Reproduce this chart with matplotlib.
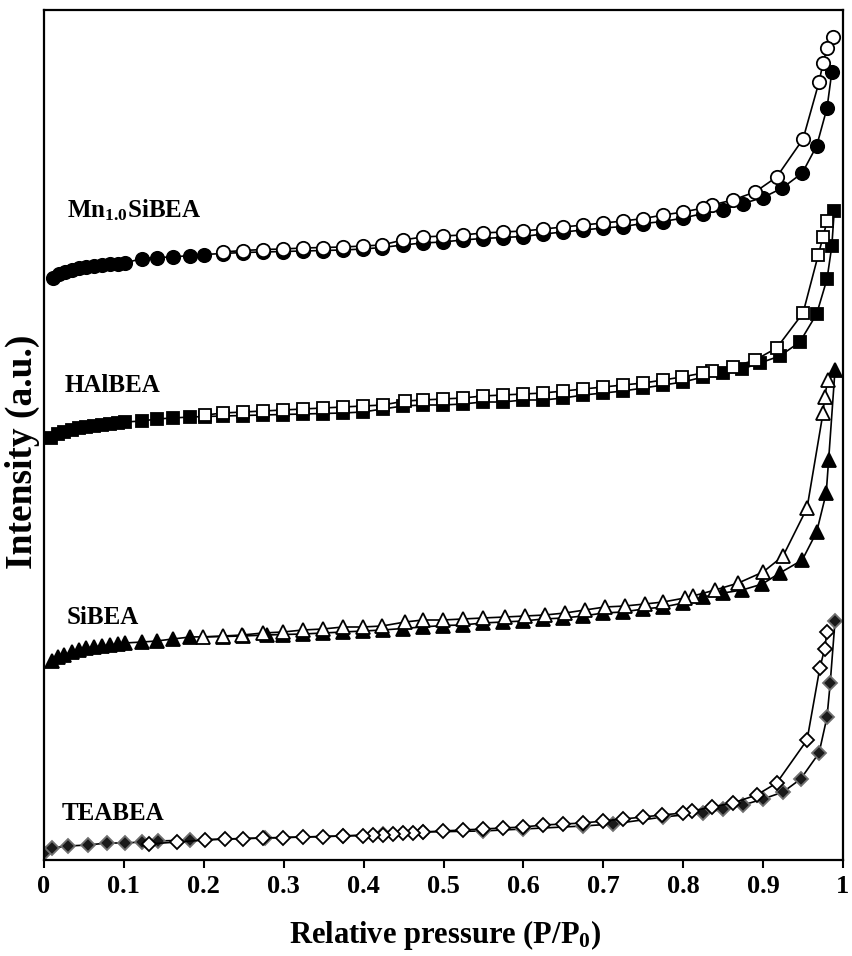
import matplotlib

matplotlib.use("Agg")
import matplotlib.pyplot as plt

# N2 isotherms, stacked; intensity in arbitrary units
# --- Mn1.0SiBEA ---
mn_ads_p = [0.011, 0.019, 0.026, 0.035, 0.044, 0.053, 0.063, 0.073, 0.083, 0.093,
            0.101, 0.123, 0.141, 0.161, 0.183, 0.200, 0.224, 0.249, 0.274, 0.299,
            0.324, 0.349, 0.374, 0.399, 0.423, 0.449, 0.474, 0.499, 0.524, 0.549,
            0.574, 0.600, 0.625, 0.650, 0.675, 0.700, 0.725, 0.750, 0.775, 0.800,
            0.825, 0.850, 0.875, 0.900, 0.924, 0.949, 0.967, 0.980, 0.986]
mn_ads_v = [582, 586, 588, 590, 592, 593, 594, 595, 596, 596.5,
            597, 601.5, 602.5, 603, 604.5, 605.5, 606.5, 607.5, 608, 608.5,
            609, 609.5, 610, 611, 612.5, 615, 617, 618, 620, 621.5,
            622.5, 623.5, 626, 628, 630, 632, 633.5, 636.5, 638.5, 642,
            646.5, 650.5, 656.5, 662.5, 672, 687, 714, 752, 788]
mn_des_p = [0.988, 0.980, 0.975, 0.970, 0.950, 0.917, 0.890, 0.862, 0.836, 0.825,
            0.800, 0.775, 0.750, 0.725, 0.700, 0.675, 0.650, 0.625, 0.600, 0.574,
            0.549, 0.524, 0.499, 0.474, 0.449, 0.423, 0.399, 0.374, 0.349, 0.324,
            0.299, 0.274, 0.249, 0.224]
mn_des_v = [823, 812, 797, 778, 721, 683, 668, 660, 655, 652,
            648, 645, 641.5, 639, 637, 635, 633, 631, 629, 628,
            627, 625, 624, 623, 620, 615, 614, 613, 612.5, 612,
            611, 610.5, 609.5, 608]

# --- HAlBEA ---
hal_ads_p = [0.009, 0.018, 0.025, 0.035, 0.044, 0.053, 0.063, 0.073, 0.083, 0.093,
             0.101, 0.123, 0.141, 0.161, 0.183, 0.202, 0.224, 0.249, 0.274, 0.299,
             0.324, 0.349, 0.374, 0.399, 0.424, 0.449, 0.474, 0.499, 0.524, 0.549,
             0.574, 0.600, 0.625, 0.650, 0.675, 0.700, 0.725, 0.750, 0.775, 0.800,
             0.825, 0.850, 0.874, 0.896, 0.921, 0.946, 0.967, 0.980, 0.986, 0.989]
hal_ads_v = [422, 426, 428, 430, 432, 433, 434, 435, 436, 437,
             438, 439, 441, 442, 443, 443.5, 444, 444.5, 445, 445.5,
             446, 446.5, 447, 448, 451, 454, 455, 455, 456, 458,
             458, 460, 460, 462, 465, 467, 469, 472, 475, 478,
             483, 487, 491, 497, 504, 518, 546, 581, 614, 649]
hal_des_p = [0.980, 0.975, 0.969, 0.950, 0.917, 0.890, 0.862, 0.836, 0.825, 0.798,
             0.775, 0.750, 0.725, 0.700, 0.675, 0.650, 0.625, 0.600, 0.574, 0.549,
             0.524, 0.499, 0.474, 0.452, 0.424, 0.399, 0.374, 0.349, 0.324, 0.299,
             0.274, 0.249, 0.224, 0.202]
hal_des_v = [639, 623, 605, 547, 512, 500, 493, 489, 487, 483,
             480, 477, 475, 473, 471, 469, 467, 466, 465, 464,
             462, 461, 460, 459, 455, 454, 453, 452, 451, 450,
             449, 448, 447, 445]

# --- SiBEA ---
si_ads_p = [0.010, 0.018, 0.025, 0.035, 0.044, 0.053, 0.063, 0.073, 0.083, 0.093,
            0.101, 0.123, 0.141, 0.161, 0.183, 0.224, 0.249, 0.279, 0.299, 0.324,
            0.349, 0.374, 0.399, 0.424, 0.449, 0.474, 0.499, 0.524, 0.549, 0.574,
            0.600, 0.625, 0.650, 0.675, 0.700, 0.725, 0.750, 0.775, 0.800, 0.825,
            0.850, 0.874, 0.899, 0.921, 0.949, 0.967, 0.979, 0.982, 0.990]
si_ads_v = [199, 203, 205, 208, 210, 212, 213, 214, 215, 216,
            217, 218, 219, 221, 223, 223.5, 224, 225, 225.5, 226,
            227, 228, 229, 230, 231.5, 233, 234.5, 235, 237, 238,
            239, 241, 242, 244, 247, 248, 251, 253, 257, 263,
            267, 270, 276, 287, 300, 328, 367, 400, 490]
si_des_p = [0.981, 0.977, 0.975, 0.955, 0.925, 0.900, 0.869, 0.840, 0.812, 0.802,
            0.775, 0.752, 0.727, 0.702, 0.677, 0.652, 0.627, 0.602, 0.577, 0.549,
            0.524, 0.499, 0.474, 0.452, 0.423, 0.399, 0.374, 0.349, 0.324, 0.299,
            0.274, 0.248, 0.224, 0.199]
si_des_v = [480, 463, 447, 352, 304, 288, 277, 270, 264, 262,
            258, 256, 254, 253, 250, 247, 245, 244, 243, 242,
            241, 240, 240, 238, 234, 233, 233, 231, 230, 228,
            227, 225, 224, 223]

# --- TEABEA ---
tea_ads_p = [0.000, 0.010, 0.030, 0.055, 0.079, 0.101, 0.123, 0.143, 0.183, 0.277,
             0.374, 0.424, 0.474, 0.549, 0.600, 0.675, 0.712, 0.775, 0.825, 0.850,
             0.875, 0.900, 0.925, 0.947, 0.970, 0.980, 0.984, 0.990]
tea_ads_v = [7, 12, 14, 15, 17, 17, 18, 19, 20, 22,
             24, 26, 28, 29, 31, 34, 36, 43, 47, 51,
             55, 61, 68, 81, 107, 143, 177, 239]
tea_des_p = [0.980, 0.977, 0.971, 0.955, 0.917, 0.892, 0.862, 0.836, 0.811, 0.800,
             0.773, 0.750, 0.725, 0.700, 0.675, 0.650, 0.625, 0.600, 0.574, 0.549,
             0.524, 0.499, 0.474, 0.462, 0.449, 0.437, 0.424, 0.412, 0.399, 0.374,
             0.349, 0.324, 0.299, 0.274, 0.249, 0.227, 0.202, 0.167, 0.131]
tea_des_v = [228, 211, 192, 120, 77, 65, 57, 53, 49, 47,
             45, 43, 41, 39, 37, 36, 35, 33, 32, 31,
             30, 29, 28, 27.5, 27, 26, 25.5, 25, 24.5, 24,
             23.5, 23, 22.5, 22, 21.5, 21, 20, 18, 16]

sample_labels = [r"Mn$_{1.0}$SiBEA", "HAlBEA", "SiBEA", "TEABEA"]
label_x = [0.029, 0.026, 0.028, 0.022]
label_y = [650, 474, 242, 46]

x_ticks = [0, 0.1, 0.2, 0.3, 0.4, 0.5, 0.6, 0.7, 0.8, 0.9, 1]
x_tick_labels = ["0", "0.1", "0.2", "0.3", "0.4", "0.5", "0.6", "0.7", "0.8", "0.9", "1"]

plt.rcParams["font.family"] = ["Liberation Serif", "DejaVu Serif"]
plt.rcParams["font.weight"] = "bold"
plt.rcParams["mathtext.fontset"] = "custom"
plt.rcParams["mathtext.rm"] = "Liberation Serif:bold"
plt.rcParams["mathtext.it"] = "Liberation Serif:bold"
plt.rcParams["mathtext.bf"] = "Liberation Serif:bold"

fig = plt.figure(figsize=(8.52, 9.56), dpi=100)
ax = fig.add_axes([44 / 852, 96 / 956, 799 / 852, 850 / 956])

line_kw = dict(color="black", linewidth=1.2, markeredgewidth=1.3)

series = [
    (mn_ads_p, mn_ads_v, mn_des_p, mn_des_v, "o", 9.6),
    (hal_ads_p, hal_ads_v, hal_des_p, hal_des_v, "s", 8.8),
    (si_ads_p, si_ads_v, si_des_p, si_des_v, "^", 9.6),
    (tea_ads_p, tea_ads_v, tea_des_p, tea_des_v, "D", 7.2),
]

for ads_p, ads_v, des_p, des_v, marker, size in series:
    if marker == "D":
        face, edge = "#1a1a1a", "#707070"
    else:
        face, edge = "black", "black"
    ax.plot(ads_p, ads_v, marker=marker, markersize=size,
            markerfacecolor=face, markeredgecolor=edge, **line_kw)
    ax.plot(des_p, des_v, marker=marker, markersize=size,
            markerfacecolor="white", markeredgecolor="black", **line_kw)

for text, tx, ty in zip(sample_labels, label_x, label_y):
    ax.text(tx, ty, text, fontsize=18, fontweight="bold",
            ha="left", va="center")

ax.set_xlim(0, 1)
ax.set_ylim(0, 850)
ax.set_xticks(x_ticks)
ax.set_xticklabels(x_tick_labels)
ax.set_yticks([])
ax.tick_params(axis="x", direction="out", length=6, width=1.5,
               labelsize=19, pad=5)
for label in ax.get_xticklabels():
    label.set_fontweight("bold")
for spine in ax.spines.values():
    spine.set_linewidth(1.6)

ax.set_xlabel(r"Relative pressure (P/P$_0$)", fontsize=22, fontweight="bold",
              va="center")
ax.xaxis.set_label_coords(0.502, -0.088)
ax.set_ylabel("Intensity (a.u.)", fontsize=27, fontweight="bold", va="center")
ax.yaxis.set_label_coords(-0.0275, 0.48)

fig.savefig("out.png", dpi=100)
plt.close(fig)
